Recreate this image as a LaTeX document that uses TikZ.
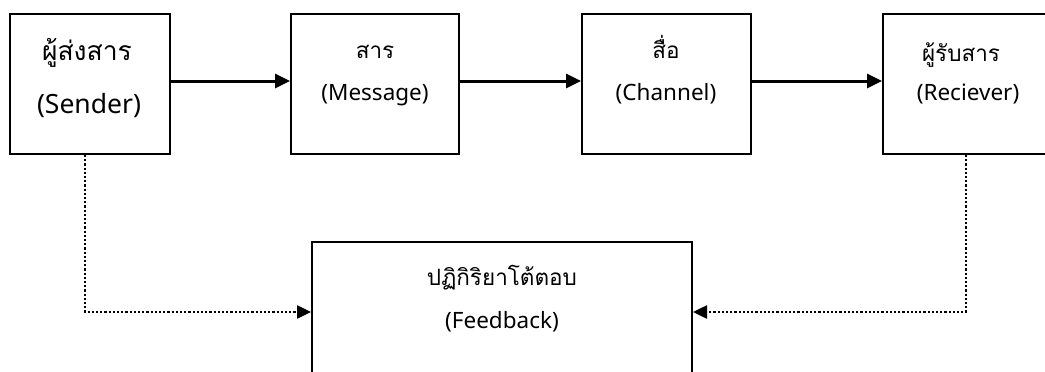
\documentclass[tikz,border=0pt]{standalone}
\usepackage{fontspec}
\setmainfont{Noto Sans}
\newfontfamily\thai[Script=Thai]{Loma}
\usetikzlibrary{arrows.meta,calc}
\tikzset{
  box/.style={draw=black,line width=2pt,fill=white,inner sep=0pt},
  txt/.style={anchor=base,inner sep=0pt,font=\fontsize{22.5}{26}\selectfont},
  bigtxt/.style={anchor=base,inner sep=0pt,font=\fontsize{26.5}{30}\selectfont},
  flow/.style={line width=3pt,-{Triangle[length=15pt,width=14pt]}},
  fb/.style={line width=2.5pt,dash pattern=on 2.2pt off 2pt,-{Triangle[length=14pt,width=13pt]}}
}
\begin{document}
\begin{tikzpicture}[x=1pt,y=-1pt]
\useasboundingbox (0,0) rectangle (1045,372);
\node[box,minimum width=160pt,minimum height=140pt] (sender) at (90,84) {};
\node[box,minimum width=168pt,minimum height=140pt] (message) at (375,84) {};
\node[box,minimum width=169pt,minimum height=140pt] (channel) at (666.5,84) {};
\node[box,minimum width=164pt,minimum height=140pt] (receiver) at (965,84) {};
\node[box,minimum width=380pt,minimum height=140pt] (feedback) at (502,312) {};
% texts
\node[bigtxt] (s1) at (87,60) {\thai ผู้ส่งสาร};
\node[bigtxt] (s2) at (89,113) {(Sender)};
\node[txt] (m1) at (375,58) {\thai สาร};
\node[txt] (m2) at (375,100) {(Message)};
\node[txt] (c1) at (666,58) {\thai สื่อ};
\node[txt] (c2) at (666,100) {(Channel)};
\node[txt] (r1) at (961,61) {\thai ผู้รับสาร};
\node[txt] (r2) at (968,100) {(Reciever)};
\node[txt] (f1) at (502,285) {\thai ปฏิกิริยาโต้ตอบ};
\node[txt] (f2) at (502,328) {(Feedback)};
% arrows
\draw[flow] ([yshift=3pt]sender.east) -- ([yshift=3pt]message.west);
\draw[flow] ([yshift=3pt]message.east) -- ([yshift=3pt]channel.west);
\draw[flow] ([yshift=3pt]channel.east) -- ([yshift=3pt]receiver.west);
\draw[fb] ([xshift=-5pt]sender.south) |- (feedback.west);
\draw[fb] ([xshift=1pt]receiver.south) |- (feedback.east);
\end{tikzpicture}
\end{document}
